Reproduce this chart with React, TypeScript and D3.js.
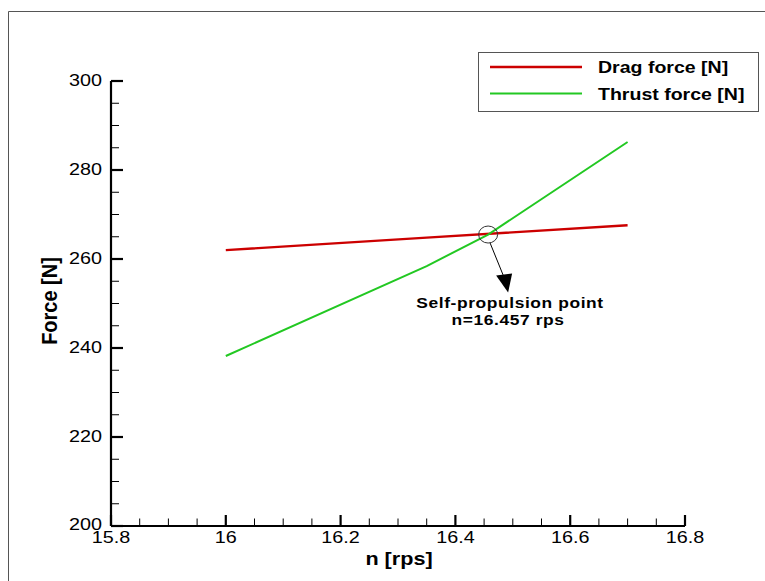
import React from "react";
import * as d3 from "d3";

const nDrag = [16.0, 16.35, 16.7];
const dragForce = [262.0, 264.8, 267.6];
const nThrust = [16.0, 16.35, 16.457, 16.7];
const thrustForce = [238.2, 258.4, 265.5, 286.3];
const xTicks = [15.8, 16.0, 16.2, 16.4, 16.6, 16.8];
const xTickLabels = ["15.8", "16", "16.2", "16.4", "16.6", "16.8"];
const yTicks = [200, 220, 240, 260, 280, 300];
const yTickLabels = ["200", "220", "240", "260", "280", "300"];
const seriesNames = ["Drag force [N]", "Thrust force [N]"];
const seriesColors = ["#cc0000", "#22c822"];
const selfPropN = 16.457;
const selfPropF = 265.5;

const FONT = "'Liberation Sans', Arial, Helvetica, sans-serif";
const SX = 1.2;

function T(props: any) {
  const { x, y, children, size = 16, weight = "normal", anchor = "middle", rotate = false, sx = SX, ls = 0 } = props;
  return (
    <text
      transform={`translate(${x},${y}) scale(${sx},1)${rotate ? " rotate(-90)" : ""}`}
      textAnchor={anchor}
      dominantBaseline="central"
      fontFamily={FONT}
      fontSize={size}
      fontWeight={weight}
      letterSpacing={ls}
      fill="#000"
    >
      {children}
    </text>
  );
}

export default function App() {
  const W = 765, H = 581;
  const x = d3.scaleLinear().domain([15.8, 16.8]).range([111, 685]);
  const y = d3.scaleLinear().domain([200, 300]).range([526, 81]);
  const line = d3.line<[number, number]>().x((d) => x(d[0])).y((d) => y(d[1]));
  const dragPts: [number, number][] = nDrag.map((n, i) => [n, dragForce[i]]);
  const thrustPts: [number, number][] = nThrust.map((n, i) => [n, thrustForce[i]]);
  const xMinor = x.ticks(20).filter((t) => !xTicks.some((m) => Math.abs(m - t) < 1e-6));
  const yMinor = y.ticks(20).filter((t) => !yTicks.some((m) => Math.abs(m - t) < 1e-6));
  const cx = x(selfPropN), cy = y(selfPropF);

  return (
    <svg width={W} height={H} style={{ position: "absolute", left: 0, top: 0, background: "#fff" }}>
      <rect x={0} y={0} width={W} height={H} fill="#fff" />
      {/* outer frame */}
      <line x1={8.5} y1={11.5} x2={W} y2={11.5} stroke="#555" strokeWidth={1} />
      <line x1={8.5} y1={11.5} x2={8.5} y2={H} stroke="#555" strokeWidth={1} />

      {/* axes */}
      <line x1={x(15.8)} y1={y(200)} x2={x(15.8)} y2={y(300)} stroke="#000" strokeWidth={2.2} />
      <line x1={x(15.8)} y1={y(200)} x2={x(16.8)} y2={y(200)} stroke="#000" strokeWidth={2.2} />
      {yTicks.map((t, i) => (
        <g key={"ym" + t}>
          <line x1={x(15.8)} x2={x(15.8) + 12} y1={y(t)} y2={y(t)} stroke="#000" strokeWidth={2.2} />
          <T x={102} y={y(t) - (i === 0 ? 1 : 0)} anchor="end" size={16.5}>{yTickLabels[i]}</T>
        </g>
      ))}
      {yMinor.map((t) => (
        <line key={"yn" + t} x1={x(15.8)} x2={x(15.8) + 8} y1={y(t)} y2={y(t)} stroke="#000" strokeWidth={1} />
      ))}
      {xTicks.map((t, i) => (
        <g key={"xm" + t}>
          <line x1={x(t)} x2={x(t)} y1={y(200)} y2={y(200) - 11} stroke="#000" strokeWidth={2.2} />
          <T x={x(t)} y={537.5} size={16.5}>{xTickLabels[i]}</T>
        </g>
      ))}
      {xMinor.map((t) => (
        <line key={"xn" + t} x1={x(t)} x2={x(t)} y1={y(200)} y2={y(200) - 7.5} stroke="#000" strokeWidth={1} />
      ))}

      <T x={399} y={559} size={18} weight="bold">n [rps]</T>
      <T x={49} y={301} size={20} weight="bold" rotate sx={1.12}>Force [N]</T>

      {/* series */}
      <path d={line(dragPts) || ""} fill="none" stroke={seriesColors[0]} strokeWidth={2.4} />
      <path d={line(thrustPts) || ""} fill="none" stroke={seriesColors[1]} strokeWidth={2} />

      {/* annotation */}
      <ellipse cx={cx} cy={cy} rx={9.5} ry={8.5} fill="none" stroke="#333" strokeWidth={1} />
      <line x1={cx + 2} y1={cy + 8.5} x2={cx + 16} y2={cy + 43} stroke="#000" strokeWidth={1} />
      <polygon points={`${cx + 8},${cy + 41} ${cx + 24},${cy + 39} ${cx + 20},${cy + 58}`} fill="#000" />
      <T x={510} y={303} size={14.5} weight="bold" ls={0.5}>Self-propulsion point</T>
      <T x={508} y={320} size={14.5} weight="bold" ls={0.5}>n=16.457 rps</T>

      {/* legend */}
      <rect x={478.5} y={52.5} width={280} height={59} fill="#fff" stroke="#555" strokeWidth={1} />
      {seriesNames.map((s, i) => (
        <g key={s}>
          <line x1={490} x2={582} y1={67 + i * 26.5} y2={67 + i * 26.5} stroke={seriesColors[i]} strokeWidth={i === 0 ? 2.4 : 2} />
          <T x={598} y={67 + i * 26.5} anchor="start" size={17.3} weight="bold" sx={1.13}>{s}</T>
        </g>
      ))}
    </svg>
  );
}
